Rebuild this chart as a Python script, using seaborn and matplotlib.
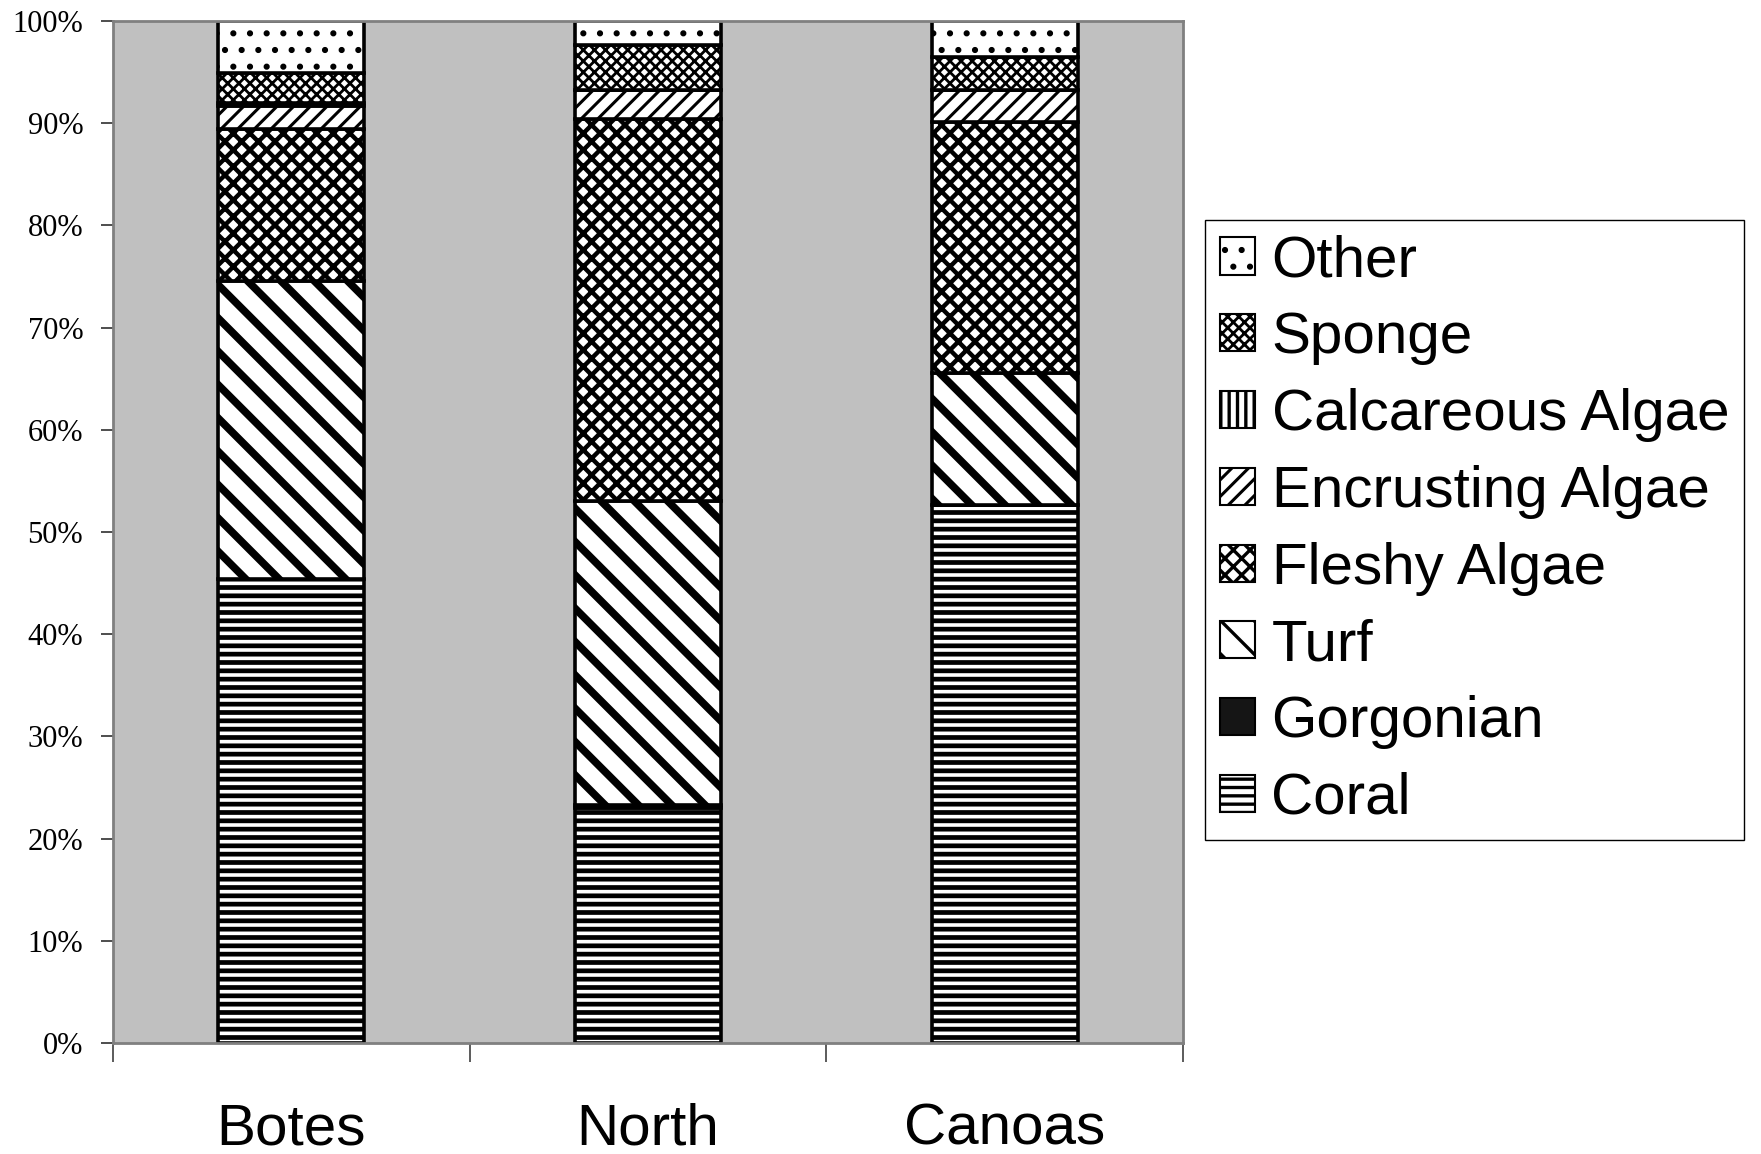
import numpy as np
import pandas as pd
import matplotlib
matplotlib.use("Agg")
import matplotlib.pyplot as plt
from matplotlib.patches import Patch
from matplotlib.ticker import FixedLocator, PercentFormatter
import seaborn as sns

# ---- data (percent cover) ----
sites = ["Botes", "North", "Canoas"]
categories = ["Coral", "Gorgonian", "Turf", "Fleshy Algae", "Encrusting Algae",
              "Calcareous Algae", "Sponge", "Other"]
coral = [45.4, 23.0, 52.6]
gorgonian = [0.0, 0.3, 0.0]
turf = [29.2, 29.7, 13.0]
fleshy_algae = [14.8, 37.4, 24.5]
encrusting_algae = [2.3, 2.8, 3.1]
calcareous_algae = [0.3, 0.0, 0.0]
sponge = [2.9, 4.5, 3.3]
other = [5.1, 2.3, 3.5]
y_ticks = [0, 10, 20, 30, 40, 50, 60, 70, 80, 90, 100]

series = [coral, gorgonian, turf, fleshy_algae, encrusting_algae,
          calcareous_algae, sponge, other]

# styles: (facecolor, hatch, hatch linewidth)
styles = {
    "Coral": ("white", "--", 3.4),
    "Gorgonian": ("#151515", "", 1.0),
    "Turf": ("white", "\\", 5.5),
    "Fleshy Algae": ("white", "xx", 3.2),
    "Encrusting Algae": ("white", "//", 2.2),
    "Calcareous Algae": ("white", "||", 4.0),
    "Sponge": ("white", "xxx", 2.0),
    "Other": ("white", ".", 2.0),
}


def apply_hatch_lw(artist, lw):
    if hasattr(artist, "set_hatch_linewidth"):
        artist.set_hatch_linewidth(lw)


sns.set_theme(style="white")
plt.rcParams["font.family"] = ["Liberation Sans", "DejaVu Sans"]
plt.rcParams["text.color"] = "black"
plt.rcParams["xtick.labelcolor"] = "black"
plt.rcParams["ytick.labelcolor"] = "black"

fig = plt.figure(figsize=(17.61, 11.54), dpi=100)
ax = fig.add_axes([113 / 1761, 1 - 1043 / 1154, (1183 - 113) / 1761, (1043 - 21) / 1154])
ax.set_facecolor("#C0C0C0")

bottom = np.zeros(len(sites))
for cat, vals in zip(categories, series):
    fc, hatch, hlw = styles[cat]
    with plt.rc_context({"hatch.linewidth": hlw, "hatch.color": "black"}):
        sns.barplot(x=sites, y=vals, bottom=bottom, order=sites, ax=ax,
                    color=fc, saturation=1, edgecolor="black", linewidth=2.6,
                    hatch=hatch, width=0.41, err_kws={"linewidth": 0})
        for p in ax.containers[-1]:
            apply_hatch_lw(p, hlw)
    bottom = bottom + np.array(vals)

ax.set_xlim(-0.5, 2.5)
ax.set_ylim(0, 100)
ax.yaxis.set_major_locator(FixedLocator(y_ticks))
ax.yaxis.set_major_formatter(PercentFormatter(decimals=0))
ax.set_xlabel("")
ax.set_ylabel("")

for lab in ax.get_yticklabels():
    lab.set_fontfamily(["Liberation Serif", "DejaVu Serif"])
    lab.set_fontsize(22)
ax.tick_params(axis="y", direction="out", length=8.5, width=1.3, color="#404040",
               pad=13, left=True, labelcolor="black")
ax.tick_params(axis="x", which="major", length=0, labelsize=42, pad=43, labelcolor="black")
ax.xaxis.set_minor_locator(FixedLocator([-0.5, 0.5, 1.5, 2.5]))
ax.tick_params(axis="x", which="minor", direction="out", length=13.5, width=1.2,
               color="#404040", bottom=True)

for side in ["top", "right", "left", "bottom"]:
    ax.spines[side].set_visible(True)
    ax.spines[side].set_color("#808080")
    ax.spines[side].set_linewidth(2.0)

legend_hlw = {c: min(styles[c][2], 2.4) for c in categories}
handles = []
for cat in categories[::-1]:
    fc, hatch, hlw = styles[cat]
    with plt.rc_context({"hatch.linewidth": legend_hlw[cat]}):
        h = Patch(facecolor=fc, edgecolor="black", hatch=hatch, linewidth=1.5, label=cat)
        apply_hatch_lw(h, legend_hlw[cat])
    handles.append(h)

leg = fig.legend(handles=handles, loc="upper left", bbox_to_anchor=(1205 / 1761, 1 - 220 / 1154),
                 bbox_transform=fig.transFigure, fontsize=42, frameon=True, fancybox=False,
                 edgecolor="black", framealpha=1, borderpad=0.25, labelspacing=0.39,
                 handlelength=0.6, handleheight=0.6, handletextpad=0.29, borderaxespad=0)
leg.get_frame().set_linewidth(1.0)
for cat, lp in zip(categories[::-1], leg.get_patches()):
    apply_hatch_lw(lp, legend_hlw[cat])
for t in leg.get_texts():
    t.set_color("black")

fig.savefig("out.png", dpi=100, facecolor="white")
